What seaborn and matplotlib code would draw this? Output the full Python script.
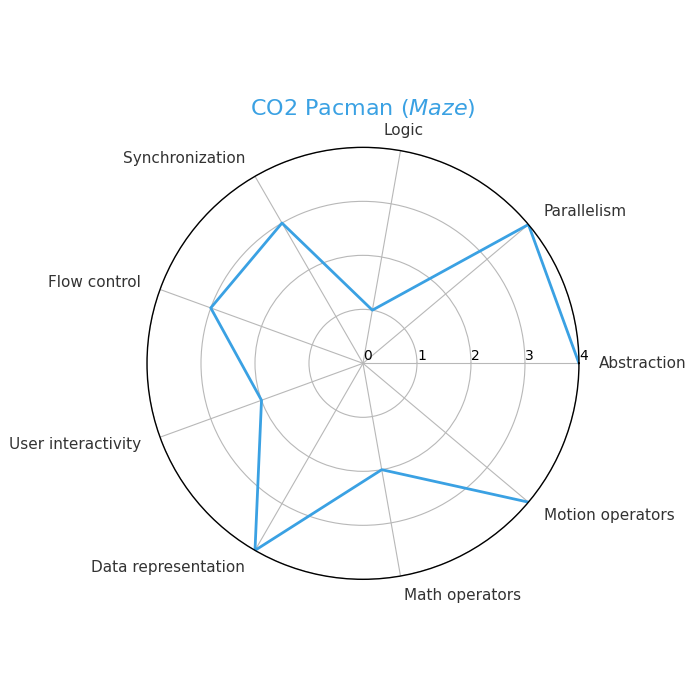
import numpy as np
import pandas as pd
import matplotlib
matplotlib.use("Agg")
import matplotlib.pyplot as plt
import seaborn as sns

# Categories and scores (counterclockwise from the right)
categories = ["Abstraction", "Parallelism", "Logic", "Synchronization", "Flow control",
              "User interactivity", "Data representation", "Math operators", "Motion operators"]
scores = [4, 4, 1, 3, 3, 2, 4, 2, 4]
ticks = [0, 1, 2, 3, 4]
title = "CO2 Pacman ($\\it{Maze}$)"
line_color = "#3aa1e3"

# angles around the circle, close the loop
angles = np.linspace(0, 2 * np.pi, len(categories), endpoint=False)
df = pd.DataFrame({"angle": np.append(angles, angles[0]),
                   "score": scores + scores[:1]})

fig = plt.figure(figsize=(7, 7), dpi=100)
ax = fig.add_axes([0.2100, 0.1724, 0.6171, 0.6171], projection="polar")

sns.lineplot(data=df, x="angle", y="score", sort=False, color=line_color,
             linewidth=2, ax=ax)

ax.set_ylim(0, 4)
ax.set_yticks(ticks)
ax.set_yticklabels([str(t) for t in ticks], fontsize=10, color="black")
ax.set_rlabel_position(0)
ax.set_xticks(angles)
ax.set_xticklabels([])
ax.set_xlabel("")
ax.set_ylabel("")
ax.grid(True, color="#b8b8b8", linewidth=0.8)
ax.spines["polar"].set_color("black")
ax.spines["polar"].set_linewidth(1)

# category labels just outside the circle, aligned away from the centre
for name, ang in zip(categories, angles):
    if name == "Logic":
        ha = "center"
    elif np.cos(ang) >= 0:
        ha = "left"
    else:
        ha = "right"
    ax.text(ang, 4.37, name, ha=ha, va="center", fontsize=11, color="#333333",
            clip_on=False)

ax.set_title(title, color=line_color, fontsize=16, y=1.075, pad=0)

fig.savefig("out.png", dpi=100)
